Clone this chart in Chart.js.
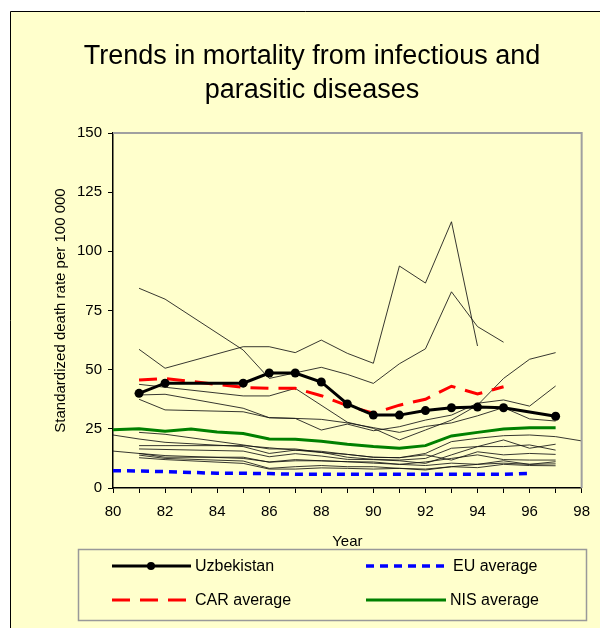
<!DOCTYPE html>
<html>
<head>
<meta charset="utf-8">
<script src="https://cdn.jsdelivr.net/npm/chart.js@4/dist/chart.umd.min.js"></script>
<style>
html,body{margin:0;padding:0;background:#ffffff;}
#wrap{position:relative;width:600px;height:628px;}
canvas{display:block;}
</style>
</head>
<body>
<div id="wrap"><canvas id="c" width="600" height="628"></canvas></div>
<script>
// ---- DATA ----
const years = [80,81,82,83,84,85,86,87,88,89,90,91,92,93,94,95,96,97,98];
const uzbekistan = [null,40.0,44.3,null,null,44.3,48.6,48.6,44.8,35.5,30.8,30.8,32.7,33.9,34.2,33.9,null,30.3,null];
const carAverage = [null,45.6,46.3,null,null,42.5,42.1,42.1,39.0,34.8,31.6,35.0,37.5,43.0,39.7,42.8,null,null,null];
const euAverage  = [7.3,7.2,6.9,6.6,6.2,6.2,6.1,5.8,5.8,5.8,5.8,5.8,5.8,5.8,5.8,5.8,6.2,null,null];
const nisAverage = [24.6,25.0,24.0,24.9,23.7,23.0,20.7,20.6,19.8,18.5,17.5,16.8,17.9,22.0,23.5,24.9,25.5,25.5,null];
const countryA = [null,58.6,50.6,null,null,59.7,59.7,57.2,62.5,56.9,52.7,93.8,86.6,112.5,60.0,null,null,null,null];
const countryB = [null,84.4,79.8,null,null,58.3,46.3,null,51.0,48.0,44.2,52.5,58.8,82.9,68.2,61.6,null,null,null];
const countryC = [null,43.8,null,null,null,38.9,38.9,42.1,null,27.8,25.2,20.3,24.5,28.7,35.0,46.3,54.4,57.2,null];
const countryD = [null,39.3,39.6,null,null,33.7,29.7,29.4,24.5,27.0,24.2,25.9,28.7,30.8,35.8,37.2,34.6,43.1,null];
const countryE = [null,37.5,33.0,null,null,32.2,29.7,29.4,29.0,27.5,25.5,23.5,26.0,27.5,30.5,34.0,29.2,28.3,null];
const countryF = [22.4,20.7,19.3,null,null,17.5,14.6,16.0,15.0,14.2,13.0,12.8,14.6,19.6,21.0,22.1,22.4,21.7,19.9];
const countryG = [null,23.5,22.7,null,null,18.2,16.5,16.5,15.1,13.0,12.1,11.8,12.5,16.8,17.5,20.3,16.8,18.5,null];
const countryH = [null,17.9,17.9,null,null,17.9,17.0,16.0,15.5,14.2,13.0,12.8,14.0,11.8,15.3,14.0,14.6,14.2,null];
const countryI = [null,16.5,null,null,null,15.6,13.2,14.5,13.5,12.1,12.0,11.5,10.4,14.0,17.5,17.5,18.2,16.0,null];
const countryJ = [15.6,14.6,13.7,null,null,12.5,11.0,12.0,11.5,11.1,10.5,10.0,11.0,12.5,14.0,12.0,11.8,11.8,null];
const countryK = [null,14.6,13.0,null,null,13.0,10.9,11.5,11.5,11.1,11.0,10.0,9.5,10.5,10.0,11.5,10.0,11.1,null];
const countryL = [null,13.9,12.5,null,null,11.4,8.3,9.0,9.5,9.0,9.0,8.3,7.6,9.0,8.6,10.0,9.5,9.4,null];
const countryM = [null,12.8,12.0,null,null,10.4,8.0,8.0,8.5,8.3,8.0,8.3,8.0,9.0,10.0,10.5,10.0,10.2,null];
const otherCountries = [countryA,countryB,countryC,countryD,countryE,countryF,countryG,countryH,countryI,countryJ,countryK,countryL,countryM];
const yTicks = [0,25,50,75,100,125,150];
const xLabelYears = [80,82,84,86,88,90,92,94,96,98];
const titleLines = ['Trends in mortality from infectious and','parasitic diseases'];
const xTitle = 'Year';
const yTitle = 'Standardized death rate per 100 000';

// ---- build ----
function pts(arr){ return years.map((y,i)=>({x:y,y:arr[i]})); }
const FONT = "'Liberation Sans', Arial, sans-serif";

const datasets = [];
otherCountries.forEach((arr,i)=>{
  datasets.push({label:'country'+i, data:pts(arr), borderColor:'rgba(20,20,20,0.85)', borderWidth:1,
    pointRadius:0, spanGaps:true, tension:0, order:10, isCountry:true});
});
datasets.push({label:'EU average', data:pts(euAverage), borderColor:'#0000ff', borderWidth:3.5,
  borderDash:[8,6], pointRadius:0, spanGaps:true, order:3});
datasets.push({label:'NIS average', data:pts(nisAverage), borderColor:'#008000', borderWidth:3,
  pointRadius:0, spanGaps:true, order:2});
datasets.push({label:'CAR average', data:pts(carAverage), borderColor:'#ff0000', borderWidth:3,
  borderDash:[18,10], pointRadius:0, spanGaps:true, order:1});
datasets.push({label:'Uzbekistan', data:pts(uzbekistan), borderColor:'#000000', borderWidth:3,
  pointRadius:4.5, pointBackgroundColor:'#000', pointBorderColor:'#000', pointBorderWidth:0,
  spanGaps:true, order:0});

const bgPlugin = {
  id:'bg',
  beforeDraw(chart){
    const ctx = chart.ctx;
    ctx.save();
    ctx.fillStyle = '#ffffff';
    ctx.fillRect(0,0,chart.width,chart.height);
    ctx.fillStyle = '#ffffcc';
    ctx.fillRect(10,11,chart.width,chart.height);
    ctx.strokeStyle = '#000';
    ctx.lineWidth = 1;
    ctx.beginPath();
    ctx.moveTo(10.5,chart.height+5); ctx.lineTo(10.5,11.5); ctx.lineTo(chart.width+5,11.5);
    ctx.stroke();
    // title
    ctx.fillStyle = '#000';
    ctx.font = '27px ' + FONT;
    ctx.textAlign = 'center';
    ctx.textBaseline = 'alphabetic';
    ctx.fillText(titleLines[0], 312, 64);
    ctx.fillText(titleLines[1], 312, 98);
    ctx.restore();
  },
  afterDatasetsDraw(chart){
    const {ctx, chartArea:a} = chart;
    ctx.save();
    ctx.strokeStyle = '#a0a0a0';
    ctx.lineWidth = 2;
    ctx.beginPath();
    ctx.moveTo(a.left, a.top); ctx.lineTo(a.right, a.top); ctx.lineTo(a.right, a.bottom);
    ctx.stroke();
    ctx.restore();
  },
  afterDraw(chart){
    const ctx = chart.ctx;
    const ds = name => chart.data.datasets.find(d=>d.label===name);
    ctx.save();
    ctx.strokeStyle = '#999';
    ctx.lineWidth = 1.5;
    ctx.strokeRect(78.5,549.5,508,71);
    const items = [
      {name:'Uzbekistan', x1:112, x2:191, y:566, tx:195},
      {name:'CAR average', x1:112, x2:187, y:600, tx:195},
      {name:'EU average', x1:366, x2:446, y:566, tx:453},
      {name:'NIS average', x1:366, x2:446, y:600, tx:450},
    ];
    items.forEach(it=>{
      const d = ds(it.name);
      ctx.save();
      ctx.strokeStyle = d.borderColor;
      ctx.lineWidth = d.borderWidth;
      ctx.setLineDash(d.borderDash || []);
      ctx.beginPath(); ctx.moveTo(it.x1,it.y); ctx.lineTo(it.x2,it.y); ctx.stroke();
      ctx.setLineDash([]);
      if (d.pointRadius){
        ctx.fillStyle = d.pointBackgroundColor;
        ctx.beginPath(); ctx.arc((it.x1+it.x2)/2 - 0.5, it.y, 4, 0, Math.PI*2); ctx.fill();
      }
      ctx.fillStyle = '#000';
      ctx.font = '16px ' + FONT;
      ctx.textAlign = 'left';
      ctx.textBaseline = 'middle';
      ctx.fillText(d.label, it.tx, it.y+1);
      ctx.restore();
    });
    ctx.restore();
  }
};

new Chart(document.getElementById('c'), {
  type:'line',
  data:{datasets},
  options:{
    responsive:false,
    animation:false,
    devicePixelRatio:1,
    layout:{padding:{left:0,right:14,top:133,bottom:0}},
    plugins:{legend:{display:false}, title:{display:false}, tooltip:{enabled:false}},
    scales:{
      x:{
        type:'linear', min:80, max:98,
        afterFit(s){ s.height = 140; },
        afterBuildTicks(s){ s.ticks = years.map(v=>({value:v})); },
        ticks:{
          autoSkip:false, maxRotation:0, padding:10, color:'#000',
          font:{family:FONT, size:15},
          callback(v){ return xLabelYears.includes(v) ? String(v) : ''; }
        },
        grid:{drawOnChartArea:false, drawTicks:true, tickLength:5, color:'#000', lineWidth:1},
        border:{color:'#000', width:1.5},
        title:{display:true, text:xTitle, color:'#000', font:{family:FONT, size:15}, padding:{top:0,bottom:77}}
      },
      y:{
        min:0, max:150,
        afterFit(s){ s.width = 113; },
        afterBuildTicks(s){ s.ticks = yTicks.map(v=>({value:v})); },
        ticks:{padding:6, color:'#000', font:{family:FONT, size:15}},
        grid:{drawOnChartArea:false, drawTicks:true, tickLength:5, color:'#000', lineWidth:1},
        border:{color:'#000', width:1.5},
        title:{display:true, text:yTitle, color:'#000', font:{family:FONT, size:15}, padding:{top:52,bottom:0}}
      }
    }
  },
  plugins:[bgPlugin]
});
</script>
</body>
</html>
